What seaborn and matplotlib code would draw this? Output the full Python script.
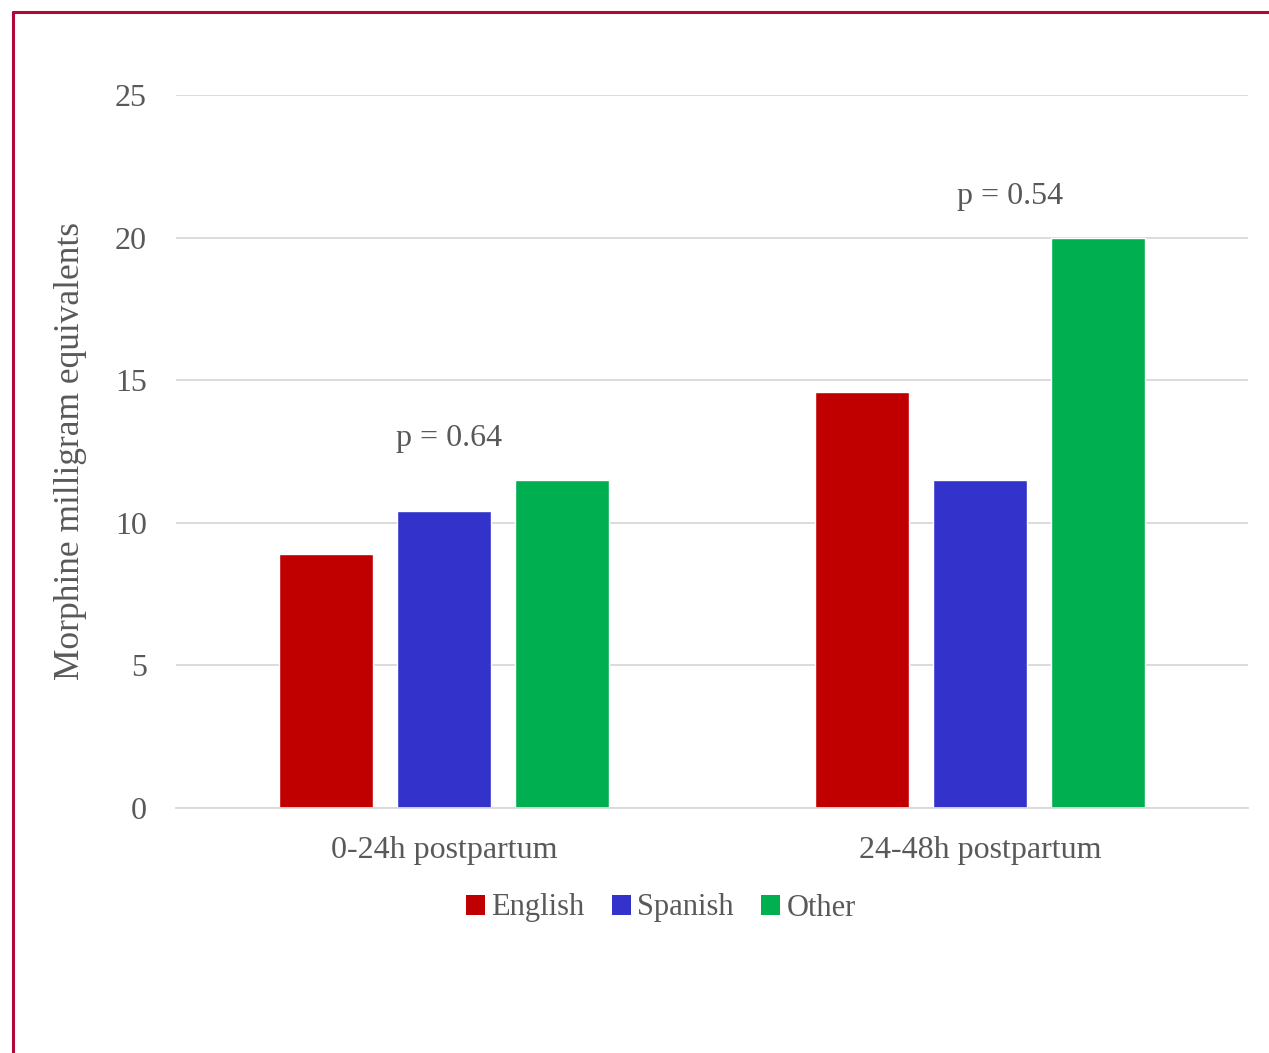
import matplotlib
matplotlib.use("Agg")
import matplotlib.pyplot as plt
from matplotlib.lines import Line2D
from matplotlib.patches import Patch
import seaborn as sns
import pandas as pd

periods = ["0-24h postpartum", "24-48h postpartum"]
languages = ["English", "Spanish", "Other"]
english = [8.9, 14.6]
spanish = [10.4, 11.5]
other = [11.5, 20.0]
p_values = ["p = 0.64", "p = 0.54"]
colors = ["#C00000", "#3333CC", "#00B050"]

rows = []
for lang, vals in zip(languages, [english, spanish, other]):
    for per, v in zip(periods, vals):
        rows.append({"period": per, "language": lang, "mme": v})
df = pd.DataFrame(rows)

sns.set_theme(style="white")
plt.rcParams["font.family"] = ["Liberation Serif", "DejaVu Serif"]
text_gray = "#595959"

fig = plt.figure(figsize=(12.69, 10.53), dpi=100)
ax = fig.add_axes([176 / 1269, 1 - 808 / 1053, (1248 - 176) / 1269, (808 - 95) / 1053])

sns.barplot(data=df, x="period", y="mme", hue="language", order=periods,
            hue_order=languages, palette=colors, width=0.66, gap=0.2,
            saturation=1, errorbar=None, legend=False, ax=ax)

ax.set_ylim(0, 25)
ax.set_xlim(-0.5, 1.5)
ax.set_yticks([0, 5, 10, 15, 20, 25])
ax.yaxis.grid(True, color="#D9D9D9", linewidth=1.3)
ax.set_axisbelow(True)
for s in ["top", "right", "left"]:
    ax.spines[s].set_visible(False)
ax.spines["bottom"].set_color("#D9D9D9")
ax.spines["bottom"].set_linewidth(1.3)
ax.tick_params(axis="both", length=0, labelsize=23, colors=text_gray)
ax.tick_params(axis="y", pad=21)
ax.tick_params(axis="x", pad=20)
ax.set_xlabel("")
ax.set_ylabel("Morphine milligram equivalents", fontsize=25.5, color=text_gray, labelpad=20)

# significance labels above each group
label_shift = [0.01, 0.056]
for i, p in enumerate(p_values):
    top = max(english[i], spanish[i], other[i])
    ax.text(i + label_shift[i], top + 1.45, p, ha="center", va="center",
            fontsize=23, color=text_gray)

handles = [Patch(facecolor=c, edgecolor="none") for c in colors]
fig.legend(handles, languages, loc="center", bbox_to_anchor=(661 / 1269, 1 - 908 / 1053),
           ncol=3, frameon=False, fontsize=22, labelcolor=text_gray,
           handlelength=0.62, handleheight=0.62, handletextpad=0.2, columnspacing=0.9)

# slide frame
frame = "#B0093A"
fig.add_artist(Line2D([13 / 1269, 1.0], [1 - 12 / 1053, 1 - 12 / 1053], color=frame,
                      linewidth=2.2, transform=fig.transFigure))
fig.add_artist(Line2D([13 / 1269, 13 / 1269], [1 - 12 / 1053, 0.0], color=frame,
                      linewidth=2.2, transform=fig.transFigure))

fig.savefig("out.png", dpi=100)
